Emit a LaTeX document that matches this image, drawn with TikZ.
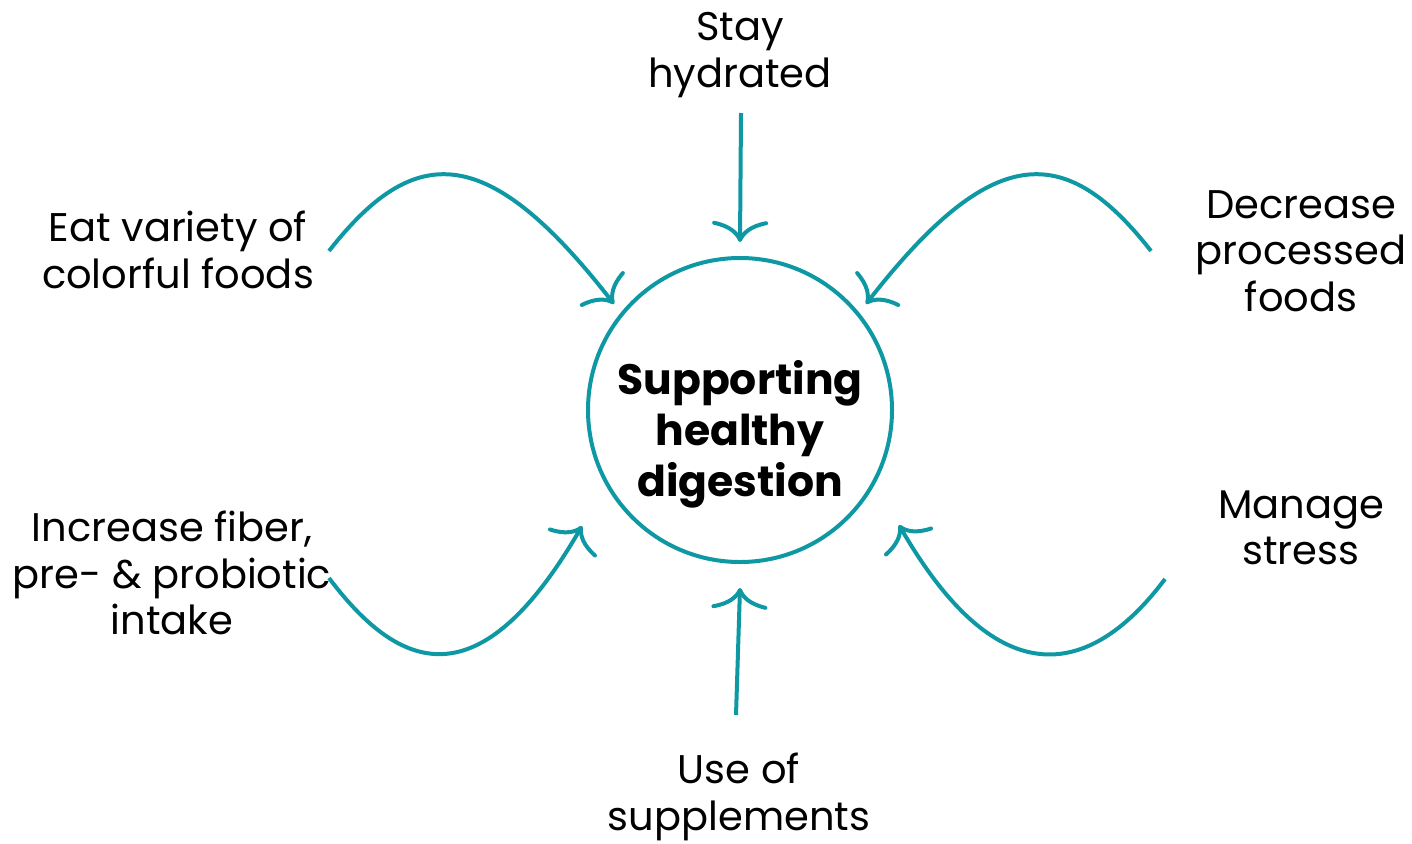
\documentclass[tikz,border=0pt]{standalone}
\usepackage{fontspec}
\setmainfont{Poppins}
\usepackage{xcolor}
\usetikzlibrary{arrows.meta}
\definecolor{tealline}{RGB}{14,152,163}

\begin{document}
\begin{tikzpicture}[x=1pt,y=-1pt,
		lbl/.style={align=center,inner sep=0pt,font=\fontsize{40}{46.5}\selectfont},
		hub/.style={draw=tealline,line width=4pt,circle,minimum size=304pt,inner sep=0pt},
		hint/.style={tealline,line width=4pt,-{Computer Modern Rightarrow[length=21pt,width=56pt]}}]
		\useasboundingbox (0,0) rectangle (1412,843);
		%hub
		\node[hub] (hub) at (740,410) {};
		\node[align=center,inner sep=0pt,font=\fontsize{42.5}{51}\selectfont\bfseries] (title) at (740,434) {Supporting\\healthy\\digestion};
		
		%labels
		\node[lbl] (hyd) at (740,55) {Stay\\hydrated};
		\node[lbl] (eat) at (178,250) {Eat variety of\\colorful foods};
		\node[lbl] (proc) at (1301,251) {Decrease\\processed\\foods};
		\node[lbl] (fib) at (172,573) {Increase fiber,\\pre- \& probiotic\\intake};
		\node[lbl] (stress) at (1301,528) {Manage\\stress};
		\node[lbl] (supp) at (739,797) {Use of\\supplements};
		
		%straight arrows
		\coordinate (hydS) at (741,113);
		\coordinate (hydT) at (740,242);
		\draw[hint] (hydS) -- (hydT);
		\coordinate (suppS) at (736,715);
		\coordinate (suppT) at (740,588);
		\draw[hint] (suppS) -- (suppT);
		
		%curved arrows
		\coordinate (eatS) at (329,251);
		\coordinate (eatT) at (614,304);
		\draw[hint] (eatS) .. controls (415,141) and (488,142) .. (eatT);
		\coordinate (procS) at (1151,251);
		\coordinate (procT) at (866,304);
		\draw[hint] (procS) .. controls (1065,141) and (992,142) .. (procT);
		\coordinate (fibS) at (329,578);
		\coordinate (fibT) at (582,526);
		\draw[hint] (fibS) .. controls (399,671) and (479,704) .. (fibT);
		\coordinate (stressS) at (1165,579);
		\coordinate (stressT) at (899,525);
		\draw[hint] (stressS) .. controls (1099,667) and (1005,709) .. (stressT);
	\end{tikzpicture}
\end{document}
